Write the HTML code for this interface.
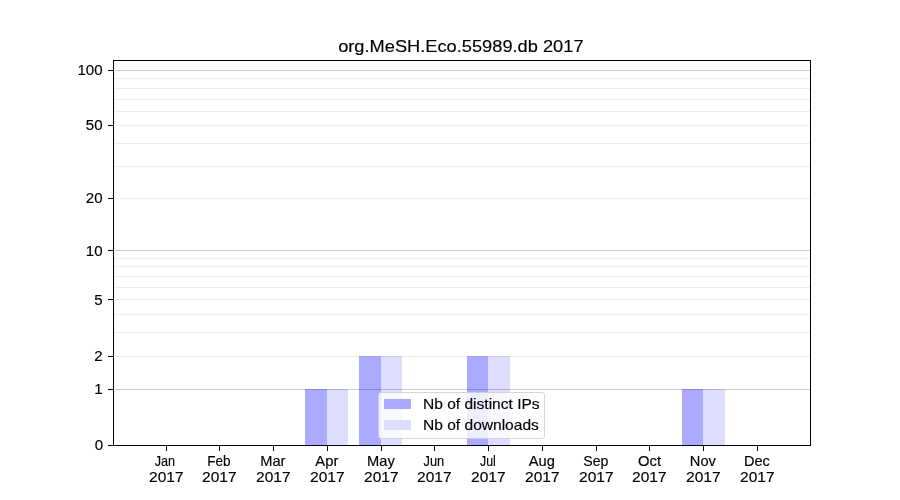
<!DOCTYPE html><html><head><meta charset="utf-8"><style>html,body{margin:0;padding:0;background:#fff;overflow:hidden}svg{display:block}text{font-family:"Liberation Sans",sans-serif;fill:#000}.t{filter:grayscale(1)}.t text{stroke:#000;stroke-width:0.15px}</style></head><body>
<svg width="900" height="500" viewBox="0 0 900 500" shape-rendering="crispEdges">
<rect x="0" y="0" width="900" height="500" fill="#fff"/>
<rect x="305" y="389" width="22" height="56" fill="#aaaaff"/>
<rect x="327" y="389" width="21" height="56" fill="#ddddff"/>
<rect x="359" y="356" width="22" height="89" fill="#aaaaff"/>
<rect x="381" y="356" width="21" height="89" fill="#ddddff"/>
<rect x="467" y="356" width="21" height="89" fill="#aaaaff"/>
<rect x="488" y="356" width="22" height="89" fill="#ddddff"/>
<rect x="682" y="389" width="21" height="56" fill="#aaaaff"/>
<rect x="703" y="389" width="22" height="56" fill="#ddddff"/>
<rect x="113" y="78" width="697" height="1" fill="#000000" fill-opacity="0.07"/>
<rect x="113" y="88" width="697" height="1" fill="#000000" fill-opacity="0.07"/>
<rect x="113" y="99" width="697" height="1" fill="#000000" fill-opacity="0.07"/>
<rect x="113" y="111" width="697" height="1" fill="#000000" fill-opacity="0.07"/>
<rect x="113" y="125" width="697" height="1" fill="#000000" fill-opacity="0.07"/>
<rect x="113" y="143" width="697" height="1" fill="#000000" fill-opacity="0.07"/>
<rect x="113" y="166" width="697" height="1" fill="#000000" fill-opacity="0.07"/>
<rect x="113" y="198" width="697" height="1" fill="#000000" fill-opacity="0.07"/>
<rect x="113" y="258" width="697" height="1" fill="#000000" fill-opacity="0.07"/>
<rect x="113" y="266" width="697" height="1" fill="#000000" fill-opacity="0.07"/>
<rect x="113" y="276" width="697" height="1" fill="#000000" fill-opacity="0.07"/>
<rect x="113" y="287" width="697" height="1" fill="#000000" fill-opacity="0.07"/>
<rect x="113" y="299" width="697" height="1" fill="#000000" fill-opacity="0.07"/>
<rect x="113" y="314" width="697" height="1" fill="#000000" fill-opacity="0.07"/>
<rect x="113" y="332" width="697" height="1" fill="#000000" fill-opacity="0.07"/>
<rect x="113" y="356" width="697" height="1" fill="#000000" fill-opacity="0.07"/>
<rect x="113" y="70" width="697" height="1" fill="#000000" fill-opacity="0.2"/>
<rect x="113" y="250" width="697" height="1" fill="#000000" fill-opacity="0.2"/>
<rect x="113" y="389" width="697" height="1" fill="#000000" fill-opacity="0.2"/>
<rect x="113" y="60" width="698" height="1" fill="#000"/>
<rect x="113" y="445" width="698" height="1" fill="#000"/>
<rect x="113" y="60" width="1" height="386" fill="#000"/>
<rect x="810" y="60" width="1" height="386" fill="#000"/>
<rect x="108" y="70" width="5" height="1" fill="#000"/>
<rect x="108" y="125" width="5" height="1" fill="#000"/>
<rect x="108" y="198" width="5" height="1" fill="#000"/>
<rect x="108" y="250" width="5" height="1" fill="#000"/>
<rect x="108" y="299" width="5" height="1" fill="#000"/>
<rect x="108" y="356" width="5" height="1" fill="#000"/>
<rect x="108" y="389" width="5" height="1" fill="#000"/>
<rect x="108" y="445" width="5" height="1" fill="#000"/>
<rect x="166" y="445" width="1" height="6" fill="#000"/>
<rect x="219" y="445" width="1" height="6" fill="#000"/>
<rect x="273" y="445" width="1" height="6" fill="#000"/>
<rect x="327" y="445" width="1" height="6" fill="#000"/>
<rect x="381" y="445" width="1" height="6" fill="#000"/>
<rect x="434" y="445" width="1" height="6" fill="#000"/>
<rect x="488" y="445" width="1" height="6" fill="#000"/>
<rect x="542" y="445" width="1" height="6" fill="#000"/>
<rect x="596" y="445" width="1" height="6" fill="#000"/>
<rect x="649" y="445" width="1" height="6" fill="#000"/>
<rect x="703" y="445" width="1" height="6" fill="#000"/>
<rect x="757" y="445" width="1" height="6" fill="#000"/>
</svg>
<svg width="900" height="500" viewBox="0 0 900 500" style="position:absolute;left:0;top:0">
<rect x="378.5" y="392.5" width="166" height="46" rx="2.5" ry="2.5" fill="#fff" fill-opacity="0.8" stroke="#cccccc" stroke-opacity="0.8" stroke-width="1"/>
<rect x="384" y="399" width="27" height="10" fill="#aaaaff" shape-rendering="crispEdges"/>
<rect x="384" y="420" width="27" height="10" fill="#ddddff" shape-rendering="crispEdges"/>
</svg>
<svg width="900" height="500" viewBox="0 0 900 500" class="t" style="position:absolute;left:0;top:0">
<text x="460.85" y="52" font-size="17" text-anchor="middle" textLength="245.40" lengthAdjust="spacingAndGlyphs">org.MeSH.Eco.55989.db 2017</text>
<text x="102.6" y="75.0" font-size="14.1" text-anchor="end" textLength="25.16" lengthAdjust="spacingAndGlyphs">100</text>
<text x="102.6" y="130.0" font-size="14.1" text-anchor="end" textLength="16.77" lengthAdjust="spacingAndGlyphs">50</text>
<text x="102.6" y="203.0" font-size="14.1" text-anchor="end" textLength="16.77" lengthAdjust="spacingAndGlyphs">20</text>
<text x="102.6" y="256.0" font-size="14.1" text-anchor="end" textLength="16.77" lengthAdjust="spacingAndGlyphs">10</text>
<text x="102.6" y="305.0" font-size="14.1" text-anchor="end" textLength="8.39" lengthAdjust="spacingAndGlyphs">5</text>
<text x="102.6" y="361.0" font-size="14.1" text-anchor="end" textLength="8.39" lengthAdjust="spacingAndGlyphs">2</text>
<text x="102.6" y="394.0" font-size="14.1" text-anchor="end" textLength="8.39" lengthAdjust="spacingAndGlyphs">1</text>
<text x="103.1" y="450.0" font-size="14.1" text-anchor="end" textLength="8.39" lengthAdjust="spacingAndGlyphs">0</text>
<text x="164.9" y="466" font-size="14.1" text-anchor="middle" textLength="20.41" lengthAdjust="spacingAndGlyphs">Jan</text>
<text x="166.35" y="482" font-size="14.1" text-anchor="middle" textLength="34.55" lengthAdjust="spacingAndGlyphs">2017</text>
<text x="218.9" y="466" font-size="14.1" text-anchor="middle" textLength="23.35" lengthAdjust="spacingAndGlyphs">Feb</text>
<text x="219.35" y="482" font-size="14.1" text-anchor="middle" textLength="34.55" lengthAdjust="spacingAndGlyphs">2017</text>
<text x="272.9" y="466" font-size="14.1" text-anchor="middle" textLength="25.21" lengthAdjust="spacingAndGlyphs">Mar</text>
<text x="273.35" y="482" font-size="14.1" text-anchor="middle" textLength="34.55" lengthAdjust="spacingAndGlyphs">2017</text>
<text x="326.9" y="466" font-size="14.1" text-anchor="middle" textLength="23.03" lengthAdjust="spacingAndGlyphs">Apr</text>
<text x="327.35" y="482" font-size="14.1" text-anchor="middle" textLength="34.55" lengthAdjust="spacingAndGlyphs">2017</text>
<text x="380.9" y="466" font-size="14.1" text-anchor="middle" textLength="27.72" lengthAdjust="spacingAndGlyphs">May</text>
<text x="381.35" y="482" font-size="14.1" text-anchor="middle" textLength="34.55" lengthAdjust="spacingAndGlyphs">2017</text>
<text x="433.9" y="466" font-size="14.1" text-anchor="middle" textLength="20.70" lengthAdjust="spacingAndGlyphs">Jun</text>
<text x="434.35" y="482" font-size="14.1" text-anchor="middle" textLength="34.55" lengthAdjust="spacingAndGlyphs">2017</text>
<text x="487.9" y="466" font-size="14.1" text-anchor="middle" textLength="15.76" lengthAdjust="spacingAndGlyphs">Jul</text>
<text x="488.35" y="482" font-size="14.1" text-anchor="middle" textLength="34.55" lengthAdjust="spacingAndGlyphs">2017</text>
<text x="541.9" y="466" font-size="14.1" text-anchor="middle" textLength="26.12" lengthAdjust="spacingAndGlyphs">Aug</text>
<text x="542.35" y="482" font-size="14.1" text-anchor="middle" textLength="34.55" lengthAdjust="spacingAndGlyphs">2017</text>
<text x="595.9" y="466" font-size="14.1" text-anchor="middle" textLength="25.18" lengthAdjust="spacingAndGlyphs">Sep</text>
<text x="596.35" y="482" font-size="14.1" text-anchor="middle" textLength="34.55" lengthAdjust="spacingAndGlyphs">2017</text>
<text x="649.5" y="466" font-size="14.1" text-anchor="middle" textLength="23.02" lengthAdjust="spacingAndGlyphs">Oct</text>
<text x="649.35" y="482" font-size="14.1" text-anchor="middle" textLength="34.55" lengthAdjust="spacingAndGlyphs">2017</text>
<text x="702.9" y="466" font-size="14.1" text-anchor="middle" textLength="26.11" lengthAdjust="spacingAndGlyphs">Nov</text>
<text x="703.35" y="482" font-size="14.1" text-anchor="middle" textLength="34.55" lengthAdjust="spacingAndGlyphs">2017</text>
<text x="756.9" y="466" font-size="14.1" text-anchor="middle" textLength="25.88" lengthAdjust="spacingAndGlyphs">Dec</text>
<text x="757.35" y="482" font-size="14.1" text-anchor="middle" textLength="34.55" lengthAdjust="spacingAndGlyphs">2017</text>
<text x="423" y="409" font-size="14.1" text-anchor="start" textLength="116.65" lengthAdjust="spacingAndGlyphs">Nb of distinct IPs</text>
<text x="423" y="430" font-size="14.1" text-anchor="start" textLength="115.83" lengthAdjust="spacingAndGlyphs">Nb of downloads</text>
</svg>
</body></html>
